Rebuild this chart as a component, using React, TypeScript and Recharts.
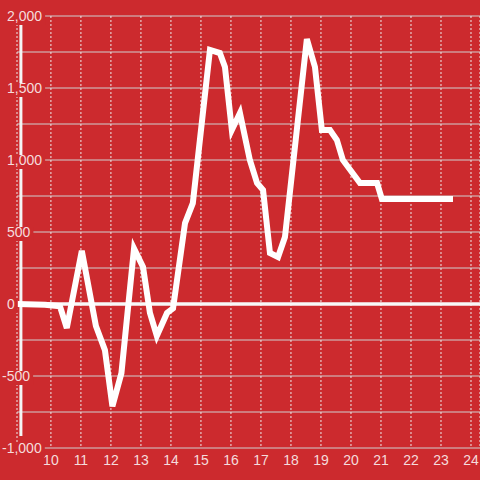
import React from "react";
import { LineChart, Line, XAxis, YAxis, CartesianGrid, ReferenceLine } from "recharts";

// hour of day (fractional) and value at that time
const times = [
  8.87, 9.8, 10.3, 10.53, 11.03, 11.5, 11.8, 12.05, 12.35, 12.77, 13.07, 13.3, 13.53,
  13.87, 14.07, 14.47, 14.73, 15.3, 15.63, 15.8, 16.03, 16.3, 16.63, 16.87, 17.07,
  17.3, 17.57, 17.8, 18.53, 18.8, 19.03, 19.3, 19.53, 19.73, 20.3, 20.87, 21.03, 23.4,
];
const values = [
  0, -5, -15, -167, 370, -153, -320, -710, -480, 385, 257, -62, -222,
  -62, -30, 562, 700, 1764, 1743, 1646, 1208, 1326, 1000, 840, 792,
  354, 326, 465, 1840, 1646, 1208, 1208, 1139, 1000, 840, 840, 729, 729,
];
const xTicks = [10, 11, 12, 13, 14, 15, 16, 17, 18, 19, 20, 21, 22, 23, 24];
const yTicks = [-1000, -750, -500, -250, 0, 250, 500, 750, 1000, 1250, 1500, 1750, 2000];

const data = times.map((t, i) => ({ t, v: values[i] }));

const BG = "#cc2a2e";
const LABEL = "#f5dcdc";
const FONT = "Liberation Sans, Arial, sans-serif";

// rough Arial 14px widths, used to size the box behind each y label
function labelWidth(s: string) {
  let w = 0;
  for (const c of s) w += c === "," ? 3.9 : c === "-" ? 4.7 : 7.8;
  return w;
}

function YTick(props: any) {
  const { y, payload } = props;
  const v = payload.value;
  if (v % 500 !== 0) return <g />;
  const text = v.toLocaleString("en-US");
  const x0 = v < 0 ? 2 : 7;
  return (
    <g>
      <rect x={x0 - 1} y={y - 5} width={labelWidth(text) + 4} height={14} fill={BG} />
      <text x={x0} y={y + 5} fill={LABEL} fontSize={14} fontFamily={FONT} textAnchor="start">
        {text}
      </text>
    </g>
  );
}

function XTick(props: any) {
  const { x, payload } = props;
  return (
    <text x={x} y={465} fill={LABEL} fontSize={14} fontFamily={FONT} textAnchor="middle">
      {payload.value}
    </text>
  );
}

export default function App() {
  return (
    <div style={{ position: "absolute", left: 0, top: 0, width: 480, height: 480, background: BG }}>
      <LineChart width={480} height={480} data={data} margin={{ top: 16, right: 0, bottom: 0, left: 0 }}>
        <CartesianGrid horizontal vertical={false} stroke="#cfcfcf" strokeWidth={1} />
        <CartesianGrid horizontal={false} vertical stroke="#ececec" strokeDasharray="2 2" strokeWidth={1} />
        <XAxis
          dataKey="t"
          type="number"
          domain={[8.87, 24.3]}
          ticks={xTicks}
          interval={0}
          axisLine={false}
          tickLine={false}
          height={32}
          tick={<XTick />}
        />
        <YAxis
          type="number"
          domain={[-1000, 2000]}
          ticks={yTicks}
          interval={0}
          width={17}
          axisLine={false}
          tickLine={false}
          tick={<YTick />}
        />
        <ReferenceLine
          segment={[{ x: 9, y: 1944 }, { x: 9, y: -917 }]}
          stroke="#f4f4f4"
          strokeWidth={3}
          ifOverflow="visible"
        />
        <ReferenceLine y={0} stroke="#f8f8f8" strokeWidth={3.5} />
        <Line
          type="linear"
          dataKey="v"
          stroke="#ffffff"
          strokeWidth={6}
          dot={false}
          isAnimationActive={false}
        />
      </LineChart>
    </div>
  );
}
